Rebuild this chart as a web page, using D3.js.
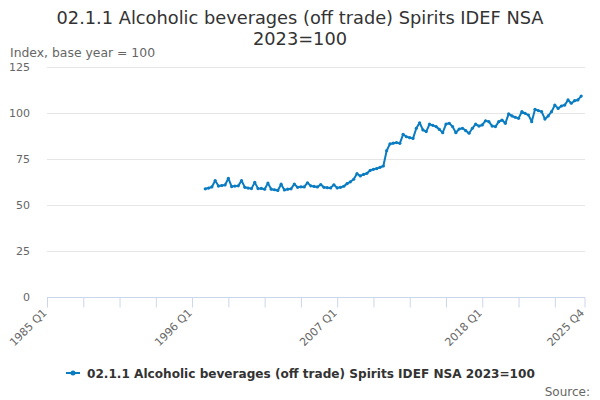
<!DOCTYPE html>
<html>
<head>
<meta charset="utf-8">
<script src="https://cdn.jsdelivr.net/npm/d3@7"></script>
<style>
  html, body { margin: 0; padding: 0; background: #fff; }
  svg { display: block; font-family: "DejaVu Sans", sans-serif; }
</style>
</head>
<body>
<svg id="chart" width="600" height="400"></svg>
<script>
// ---- data ----
const titleLines = ["02.1.1 Alcoholic beverages (off trade) Spirits IDEF NSA", "2023=100"];
const yAxisTitle = "Index, base year = 100";
const seriesName = "02.1.1 Alcoholic beverages (off trade) Spirits IDEF NSA 2023=100";
const firstYear = 1985, lastYear = 2025; // category range: 1985 Q1 .. 2025 Q4
const dataStart = "1997 Q1";
const values = [
  58.8, 59.2, 59.8, 63.3,   // 1997
  60.3, 60.6, 60.9, 64.5,   // 1998
  60.0, 60.3, 60.4, 63.3,   // 1999
  59.6, 59.2, 58.9, 62.3,   // 2000
  58.9, 59.0, 58.6, 61.9,   // 2001
  58.6, 58.3, 57.9, 61.3,   // 2002
  58.2, 58.6, 58.8, 61.4,   // 2003
  59.6, 59.9, 59.8, 62.1,   // 2004
  60.4, 60.1, 59.8, 61.1,   // 2005
  59.6, 59.4, 59.3, 61.0,   // 2006
  59.3, 59.6, 60.2, 61.6,   // 2007
  62.6, 64.0, 67.0, 65.8,   // 2008
  66.6, 67.2, 68.8, 69.4,   // 2009
  69.8, 70.5, 71.2, 79.5,   // 2010
  83.2, 83.6, 83.9, 83.5,   // 2011
  88.4, 87.1, 86.6, 86.2,   // 2012
  91.7, 94.7, 90.8, 89.9,   // 2013
  93.9, 93.3, 92.6, 91.1,   // 2014
  89.3, 94.0, 94.4, 92.6,   // 2015
  89.3, 91.3, 91.7, 90.4,   // 2016
  89.0, 91.7, 94.0, 92.9,   // 2017
  93.5, 95.8, 95.3, 92.9,   // 2018
  92.6, 95.3, 96.2, 94.4,   // 2019
  99.5, 98.4, 97.7, 97.1,   // 2020
  100.7, 99.8, 98.9, 95.3,  // 2021
  102.0, 101.3, 100.7, 96.7,// 2022
  98.4, 100.7, 104.3, 102.5,// 2023
  103.8, 104.3, 107.1, 105.3,// 2024
  106.7, 107.1, 109.2       // 2025
];
const xTickLabels = ["1985 Q1", "1996 Q1", "2007 Q1", "2018 Q1", "2025 Q4"];
const yTicks = [0, 25, 50, 75, 100, 125];

// ---- build categories ----
const categories = [];
for (let y = firstYear; y <= lastYear; y++) for (let q = 1; q <= 4; q++) categories.push(y + " Q" + q);
const startIdx = categories.indexOf(dataStart);
const data = values.map((v, i) => ({ cat: categories[startIdx + i], value: v }));

// ---- layout ----
const svg = d3.select("#chart");
const plot = { left: 47, right: 585, top: 67, bottom: 297 };
const x = d3.scalePoint().domain(categories).range([plot.left, plot.right - 0.5]);
const y = d3.scaleLinear().domain([0, 125]).range([plot.bottom, plot.top]);
const color = "#0a7cc1";

// title
svg.append("text").attr("x", 300).attr("y", 24).attr("text-anchor", "middle")
  .attr("font-size", 17.8).attr("fill", "#333")
  .selectAll("tspan").data(titleLines).join("tspan")
  .attr("x", 300).attr("dy", (d, i) => i === 0 ? 0 : 21).text(d => d);

// y axis title
svg.append("text").attr("x", 10).attr("y", 57).attr("font-size", 12.4).attr("fill", "#666").text(yAxisTitle);

// gridlines
svg.append("g").selectAll("line").data(yTicks.filter(t => t > 0)).join("line")
  .attr("x1", plot.left).attr("x2", plot.right)
  .attr("y1", d => Math.round(y(d)) + 0.5).attr("y2", d => Math.round(y(d)) + 0.5)
  .attr("stroke", "#e6e6e6").attr("stroke-width", 1);

// y axis labels
const yAxis = d3.axisLeft(y).tickValues(yTicks).tickSize(0).tickPadding(0);
const gy = svg.append("g").attr("transform", `translate(${plot.left - 17},0)`).call(yAxis);
gy.select(".domain").remove();
gy.selectAll("text").attr("font-size", 11).attr("fill", "#666").attr("font-family", "DejaVu Sans").attr("dy", "0.35em");

// x axis
const tickCats = categories.filter((c, i) => i % 11 === 0 || i === categories.length - 1);
const xAxis = d3.axisBottom(x).tickValues(tickCats).tickSize(10).tickFormat(d => xTickLabels.includes(d) ? d : "");
const gx = svg.append("g").attr("transform", `translate(0,${plot.bottom + 0.5})`).call(xAxis);
gx.select(".domain").attr("stroke", "#ccd6eb").attr("d", `M${plot.left},0H${plot.right}`);
gx.selectAll(".tick line").attr("stroke", "#ccd6eb");
gx.selectAll(".tick text").attr("font-size", 11).attr("fill", "#666").attr("font-family", "DejaVu Sans")
  .attr("text-anchor", "end").attr("dy", 0).attr("y", 0)
  .attr("transform", "translate(0,16) rotate(-45)");

// line
const line = d3.line().x(d => x(d.cat)).y(d => y(d.value));
svg.append("path").datum(data).attr("d", line).attr("fill", "none")
  .attr("stroke", color).attr("stroke-width", 2).attr("stroke-linejoin", "round");
svg.append("g").selectAll("circle").data(data).join("circle")
  .attr("cx", d => x(d.cat)).attr("cy", d => y(d.value)).attr("r", 1.6).attr("fill", color);

// legend
const lg = svg.append("g").attr("transform", "translate(66,373)");
lg.append("line").attr("x1", 0).attr("x2", 14).attr("y1", 0).attr("y2", 0).attr("stroke", color).attr("stroke-width", 2);
lg.append("circle").attr("cx", 7).attr("cy", 0).attr("r", 2.5).attr("fill", color);
lg.append("text").attr("x", 21).attr("y", 4.5).attr("font-size", 12.1).attr("font-weight", "bold")
  .attr("fill", "#333").text(seriesName);

// source
svg.append("text").attr("x", 590).attr("y", 396).attr("text-anchor", "end")
  .attr("font-size", 12).attr("fill", "#666").text("Source:");
</script>
</body>
</html>
